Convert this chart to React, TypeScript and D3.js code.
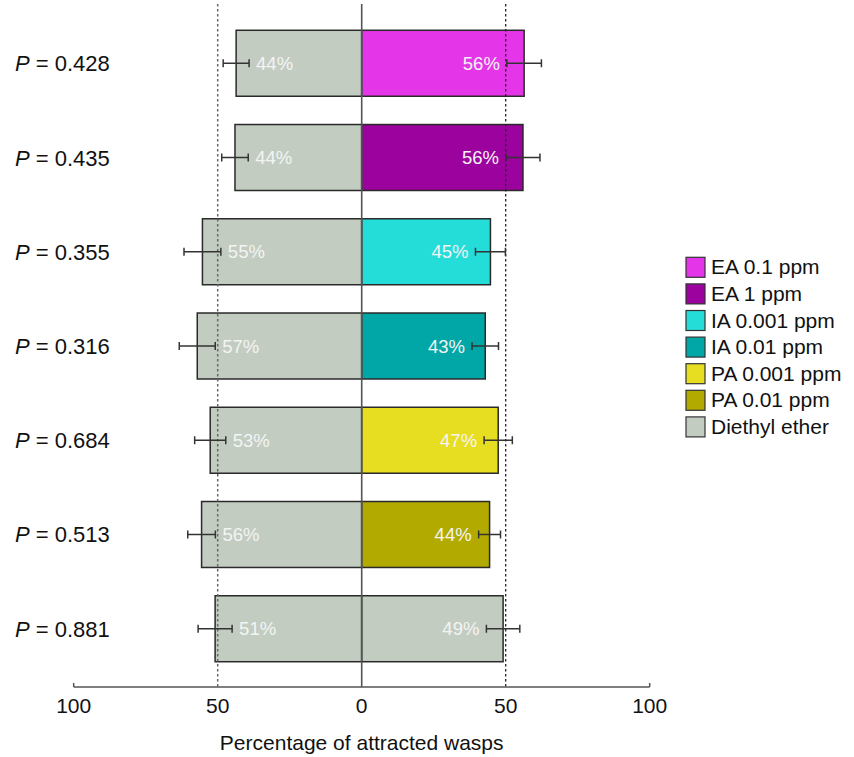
import React from "react";
import * as d3 from "d3";

const pLabels = ["0.428", "0.435", "0.355", "0.316", "0.684", "0.513", "0.881"];
const treatmentValues = [56.4, 56.0, 44.7, 42.9, 47.4, 44.4, 49.1];
const treatmentErrors = [6.0, 5.9, 5.2, 4.6, 4.9, 3.8, 5.8];
const etherValues = [43.6, 44.0, 55.3, 57.1, 52.6, 55.6, 50.9];
const etherErrors = [4.5, 4.6, 6.4, 6.25, 5.4, 4.8, 5.9];
const legendLabels = ["EA 0.1 ppm", "EA 1 ppm", "IA 0.001 ppm", "IA 0.01 ppm", "PA 0.001 ppm", "PA 0.01 ppm", "Diethyl ether"];
const colors = ["#e535e8", "#9c029e", "#24ddd8", "#00a7a6", "#e8de21", "#b3aa00", "#c2ccc1"];
const etherColor = "#c2ccc1";
const tickValues = [-100, -50, 0, 50, 100];

const W = 854;
const H = 757;
const FONT = "'Liberation Sans', Arial, Helvetica, sans-serif";

export default function App() {
  const x = d3.scaleLinear().domain([-100, 100]).range([73.7, 649.7]);
  const idx = d3.range(pLabels.length);
  const y = d3
    .scaleBand<number>()
    .domain(idx)
    .range([2, 690])
    .paddingInner(0.3)
    .paddingOuter(0.3);
  const axisY = 687;
  const bw = y.bandwidth();
  const legendY = d3.scaleLinear().domain([0, 1]).range([257.3, 283.9]);

  return (
    <div style={{ position: "absolute", left: 0, top: 0 }}>
      <svg width={W} height={H} style={{ display: "block", fontFamily: FONT }}>
        <rect width={W} height={H} fill="#fff" />
        {idx.map((i) => {
          const y0 = y(i)!;
          const lx = x(-etherValues[i]);
          const rx = x(treatmentValues[i]);
          return (
            <g key={i}>
              <rect x={lx} y={y0} width={x(0) - lx} height={bw} fill={etherColor} stroke="#2a2a2a" strokeWidth={1.5} />
              <rect x={x(0)} y={y0} width={rx - x(0)} height={bw} fill={colors[i]} stroke="#2a2a2a" strokeWidth={1.5} />
            </g>
          );
        })}
        <line x1={x(-50)} x2={x(-50)} y1={4} y2={axisY} stroke="#666" strokeWidth={1.5} strokeDasharray="2.5,2.5" />
        <line x1={x(50)} x2={x(50)} y1={4} y2={axisY} stroke="#222" strokeWidth={1.3} strokeDasharray="2.5,2.5" />
        <line x1={x(0)} x2={x(0)} y1={4} y2={axisY} stroke="#555" strokeWidth={1.6} />
        {idx.map((i) => {
          const cy = y(i)! + bw / 2;
          const lv = -etherValues[i];
          const rv = treatmentValues[i];
          const le = etherErrors[i];
          const re = treatmentErrors[i];
          const cap = 4;
          return (
            <g key={"e" + i} stroke="#333" strokeWidth={1.5}>
              <line x1={x(lv - le)} x2={x(lv + le)} y1={cy} y2={cy} />
              <line x1={x(lv - le)} x2={x(lv - le)} y1={cy - cap} y2={cy + cap} />
              <line x1={x(lv + le)} x2={x(lv + le)} y1={cy - cap} y2={cy + cap} />
              <line x1={x(rv - re)} x2={x(rv + re)} y1={cy} y2={cy} />
              <line x1={x(rv - re)} x2={x(rv - re)} y1={cy - cap} y2={cy + cap} />
              <line x1={x(rv + re)} x2={x(rv + re)} y1={cy - cap} y2={cy + cap} />
              <text x={x(lv + le) + 7} y={cy + 6.5} fill="#f4f4f4" stroke="none" fontSize={18.5}>
                {Math.round(etherValues[i])}%
              </text>
              <text x={x(rv - re) - 7} y={cy + 6.5} fill="#f4f4f4" stroke="none" fontSize={18.5} textAnchor="end">
                {Math.round(treatmentValues[i])}%
              </text>
            </g>
          );
        })}
        {idx.map((i) => {
          const cy = y(i)! + bw / 2;
          return (
            <text key={"p" + i} x={15} y={cy + 8} fontSize={22} fill="#111">
              <tspan fontStyle="italic">P</tspan>
              <tspan>{" = " + pLabels[i]}</tspan>
            </text>
          );
        })}
        <line x1={x(-100)} x2={x(100)} y1={axisY} y2={axisY} stroke="#555" strokeWidth={1.5} />
        {tickValues.map((t) => (
          <g key={"t" + t}>
            {(t === -100 || t === 100) && (
              <line x1={x(t)} x2={x(t)} y1={axisY - 4} y2={axisY} stroke="#555" strokeWidth={1.5} />
            )}
            <text x={x(t)} y={713} textAnchor="middle" fontSize={21} fill="#111">
              {Math.abs(t)}
            </text>
          </g>
        ))}
        <text x={x(0)} y={750} textAnchor="middle" fontSize={21} fill="#111">
          Percentage of attracted wasps
        </text>
        {legendLabels.map((l, i) => (
          <g key={"l" + i}>
            <rect x={686} y={legendY(i)} width={19} height={20} fill={colors[i]} stroke="#333" strokeWidth={1.2} />
            <text x={711} y={legendY(i) + 17} fontSize={21} fill="#111">
              {l}
            </text>
          </g>
        ))}
      </svg>
    </div>
  );
}
